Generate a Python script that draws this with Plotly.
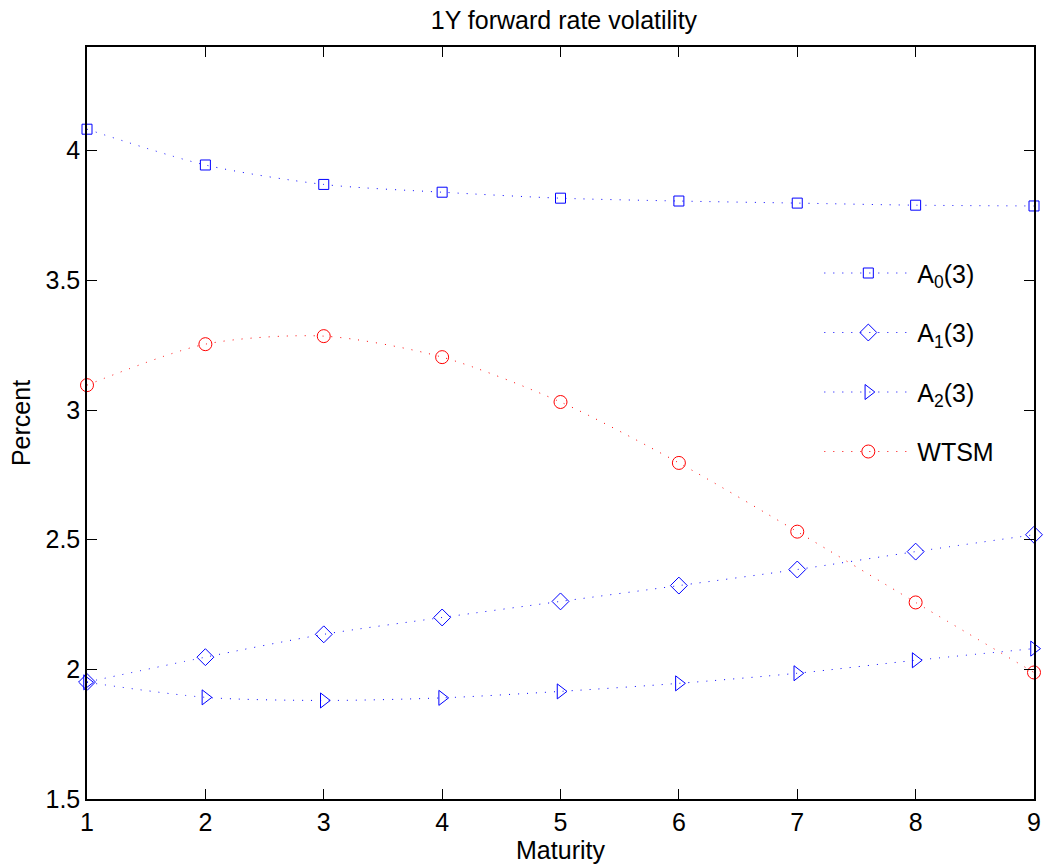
import plotly.graph_objects as go

maturity = [1, 2, 3, 4, 5, 6, 7, 8, 9]
a0 = [4.083, 3.945, 3.870, 3.840, 3.817, 3.806, 3.798, 3.790, 3.787]
a1 = [1.951, 2.047, 2.135, 2.200, 2.262, 2.323, 2.385, 2.454, 2.519]
a2 = [1.950, 1.892, 1.880, 1.890, 1.915, 1.946, 1.985, 2.035, 2.080]
wtsm = [3.096, 3.254, 3.285, 3.204, 3.031, 2.796, 2.531, 2.258, 1.988]

series_names = ["A<sub>0</sub>(3)", "A<sub>1</sub>(3)", "A<sub>2</sub>(3)", "WTSM"]
series_values = [a0, a1, a2, wtsm]
colors = ["#0000ff", "#0000ff", "#0000ff", "#ff0000"]
symbols = ["square-open", "diamond-open", "triangle-right-open", "circle-open"]
sizes = [10, 13, 13, 13]

FONT = "Liberation Sans, Arial, sans-serif"
FS = 25

fig = go.Figure()
for i, (name, vals) in enumerate(zip(series_names, series_values)):
    fig.add_trace(go.Scatter(
        x=maturity, y=vals, name=name, mode="lines+markers",
        legendgroup=f"g{i}",
        line=dict(color=colors[i], width=1, dash="1px,8px", shape="spline", smoothing=0.8),
        marker=dict(symbol=symbols[i], size=sizes[i], color=colors[i],
                    line=dict(width=1, color=colors[i])),
        cliponaxis=False,
    ))

axis_common = dict(
    showline=True, linecolor="black", linewidth=1.5, mirror="ticks",
    ticks="inside", ticklen=10, tickcolor="black", tickwidth=1,
    showgrid=False, zeroline=False,
    tickfont=dict(family=FONT, size=FS, color="black"),
)

fig.update_layout(
    width=1049, height=867,
    margin=dict(l=87, r=8, t=47, b=68),
    paper_bgcolor="white", plot_bgcolor="white",
    title=dict(text="1Y forward rate volatility", x=0.5376, xanchor="center",
               yref="container", y=1 - 20 / 867, yanchor="middle",
               font=dict(family=FONT, size=FS, color="black")),
    xaxis=dict(range=[1, 9], tickvals=maturity,
               title=dict(text="Maturity", standoff=0,
                          font=dict(family=FONT, size=FS, color="black")),
               **axis_common),
    yaxis=dict(range=[1.5, 4.4], tickvals=[1.5, 2, 2.5, 3, 3.5, 4],
               ticktext=["1.5", "2", "2.5", "3", "3.5", "4"],
               title=dict(text="Percent", standoff=8,
                          font=dict(family=FONT, size=FS, color="black")),
               **axis_common),
    legend=dict(x=0.7733, y=0.7297, xanchor="left", yanchor="top",
                bgcolor="rgba(0,0,0,0)", borderwidth=0,
                itemwidth=88, tracegroupgap=24,
                font=dict(family=FONT, size=FS, color="black")),
    showlegend=True,
)

fig.write_html("out.html")
